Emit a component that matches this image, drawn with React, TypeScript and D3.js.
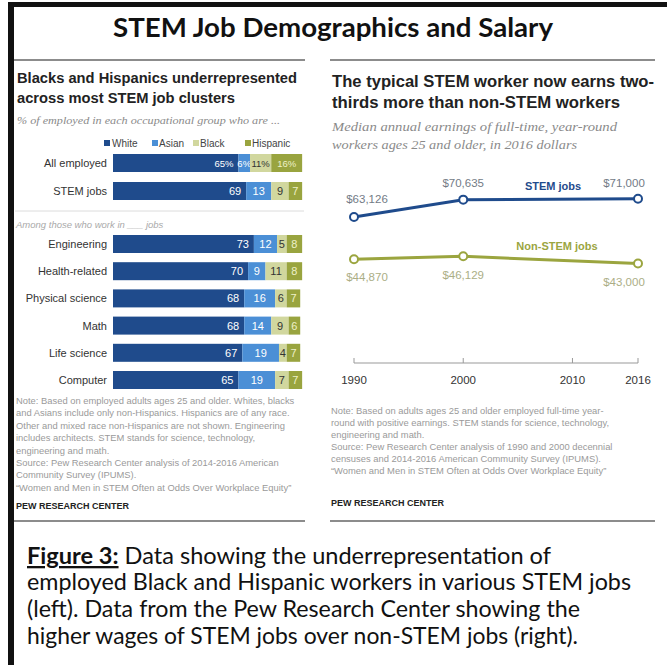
import React from 'react';
import * as d3 from 'd3';

// ---------- Data ----------
const topGroups = ['All employed', 'STEM jobs'];
const jobGroups = ['Engineering', 'Health-related', 'Physical science', 'Math', 'Life science', 'Computer'];
const races = ['White', 'Asian', 'Black', 'Hispanic'];
const whiteVals = [65, 69, 73, 70, 68, 68, 67, 65];
const asianVals = [6, 13, 12, 9, 16, 14, 19, 19];
const blackVals = [11, 9, 5, 11, 6, 9, 4, 7];
const hispanicVals = [16, 7, 8, 8, 7, 6, 7, 7];

const years = [1990, 2000, 2016];
const stemEarnings = [63126, 70635, 71000];
const nonStemEarnings = [44870, 46129, 43000];
const yearTicks = [1990, 2000, 2010, 2016];

const leftNotes = [
  'Note: Based on employed adults ages 25 and older. Whites, blacks',
  'and Asians include only non-Hispanics. Hispanics are of any race.',
  'Other and mixed race non-Hispanics are not shown. Engineering',
  'includes architects. STEM stands for science, technology,',
  'engineering and math.',
  'Source: Pew Research Center analysis of 2014-2016 American',
  'Community Survey (IPUMS).',
  '\u201cWomen and Men in STEM Often at Odds Over Workplace Equity\u201d',
];
const rightNotes = [
  'Note: Based on adults ages 25 and older employed full-time year-',
  'round with positive earnings. STEM stands for science, technology,',
  'engineering and math.',
  'Source: Pew Research Center analysis of 1990 and 2000 decennial',
  'censuses and 2014-2016 American Community Survey (IPUMS).',
  '\u201cWomen and Men in STEM Often at Odds Over Workplace Equity\u201d',
];
const captionLines = [
  'Data showing the underrepresentation of',
  'employed Black and Hispanic workers in various STEM jobs',
  '(left). Data from the Pew Research Center showing the',
  'higher wages of STEM jobs over non-STEM jobs (right).',
];

// ---------- Styles ----------
const SANS = '"Liberation Sans", Arial, sans-serif';
const SERIF = '"Liberation Serif", "DejaVu Serif", serif';
const CAL = 'Lato, "Open Sans", sans-serif';
const raceColors: Record<string, string> = {
  White: '#1f4b8c',
  Asian: '#4b8fd6',
  Black: '#d1d79e',
  Hispanic: '#99a43f',
};
const raceText: Record<string, string> = {
  White: '#ffffff',
  Asian: '#ffffff',
  Black: '#333333',
  Hispanic: '#eef1c9',
};
const STEM_COLOR = '#1f4b8c';
const NON_COLOR = '#9ba53f';

export default function App() {
  const cats = [...topGroups, ...jobGroups];
  const rows = cats.map((c, i) => ({
    cat: c,
    White: whiteVals[i],
    Asian: asianVals[i],
    Black: blackVals[i],
    Hispanic: hispanicVals[i],
  }));
  const stacked = d3.stack<any>().keys(races)(rows);

  const x = d3.scaleLinear().domain([0, 100]).range([113, 306]);
  const yTop = d3.scalePoint<string>().domain(topGroups).range([163, 191]);
  const yJobs = d3.scalePoint<string>().domain(jobGroups).range([244, 380]);
  const yCat = (c: string) => (topGroups.includes(c) ? (yTop(c) as number) : (yJobs(c) as number));
  const barH = 18;

  const xs = d3.scaleLinear().domain([1990, 2016]).range([354, 638]);
  const ys = d3.scaleLinear().domain([0, 80000]).range([363, 178]);
  const line = d3
    .line<number>()
    .x((_, i) => xs(years[i]))
    .y((d) => ys(d));
  const fmt = (v: number) => '$' + d3.format(',')(v);

  const stemOffsets = [
    { dx: 13, dy: -14 },
    { dx: 0, dy: -13 },
    { dx: -14, dy: -12 },
  ];
  const nonOffsets = [
    { dx: 13, dy: 22 },
    { dx: 0, dy: 23 },
    { dx: -14, dy: 22 },
  ];

  const legendPos = [
    { sq: 104, tx: 112 },
    { sq: 152, tx: 159 },
    { sq: 193, tx: 200 },
    { sq: 245, tx: 252 },
  ];
  const captionWidths = [524, 604, 553, 551];

  return (
    <svg
      width={667}
      height={665}
      style={{ position: 'absolute', left: 0, top: 0, background: '#fff' }}
    >
      <rect x={0} y={0} width={667} height={665} fill="#fff" />
      {/* frame */}
      <rect x={8} y={2} width={659} height={5} fill="#111" />
      <rect x={8} y={2} width={6} height={663} fill="#111" />

      {/* main title */}
      <text x={333} y={37} textAnchor="middle" fontFamily={CAL} fontWeight={700} fontSize={26} fill="#111" textLength={440} lengthAdjust="spacingAndGlyphs">
        STEM Job Demographics and Salary
      </text>

      {/* dividers */}
      <line x1={14} x2={305} y1={60} y2={60} stroke="#666" strokeWidth={1.5} />
      <line x1={330} x2={655} y1={60} y2={60} stroke="#666" strokeWidth={1.5} />
      <line x1={14} x2={305} y1={521} y2={521} stroke="#666" strokeWidth={1.5} />
      <line x1={330} x2={655} y1={521} y2={521} stroke="#666" strokeWidth={1.5} />

      {/* ---------- Left panel ---------- */}
      <text x={17} y={83} fontFamily={SANS} fontWeight={700} fontSize={14} fill="#222" textLength={280} lengthAdjust="spacingAndGlyphs">
        Blacks and Hispanics underrepresented
      </text>
      <text x={17} y={103} fontFamily={SANS} fontWeight={700} fontSize={14} fill="#222" textLength={218} lengthAdjust="spacingAndGlyphs">
        across most STEM job clusters
      </text>
      <text x={17} y={124} fontFamily={SERIF} fontStyle="italic" fontSize={11} fill="#8a8a8a" textLength={263} lengthAdjust="spacingAndGlyphs">
        % of employed in each occupational group who are ...
      </text>

      {/* legend */}
      {races.map((r, i) => (
        <g key={r}>
          <rect x={legendPos[i].sq} y={140} width={6} height={6} fill={raceColors[r]} />
          <text x={legendPos[i].tx} y={147} fontFamily={SANS} fontSize={10} fill="#444">
            {r}
          </text>
        </g>
      ))}

      {/* category labels */}
      {cats.map((c) => (
        <text key={c} x={107} y={yCat(c) + 4} textAnchor="end" fontFamily={SANS} fontSize={11} fill="#333">
          {c}
        </text>
      ))}

      {/* separator */}
      <line x1={15} x2={304} y1={211} y2={211} stroke="#dcdcdc" strokeWidth={1} />
      <text x={16} y={228} fontFamily={SANS} fontStyle="italic" fontSize={9.5} fill="#aaa">
        Among those who work in ___ jobs
      </text>

      {/* bars */}
      {stacked.map((s) =>
        s.map((d, i) => {
          const cat = cats[i];
          const x0 = x(d[0]);
          const x1 = x(d[1]);
          const v = d[1] - d[0];
          const cy = yCat(cat);
          const isWhite = s.key === 'White';
          const label = i === 0 ? `${v}%` : `${v}`;
          return (
            <g key={s.key + cat}>
              <rect x={x0} y={cy - barH / 2} width={x1 - x0} height={barH} fill={raceColors[s.key]} />
              <text
                x={isWhite ? x1 - 5 : (x0 + x1) / 2}
                y={cy + 4}
                textAnchor={isWhite ? 'end' : 'middle'}
                fontFamily={SANS}
                fontSize={i === 0 ? 9.5 : 11}
                fill={raceText[s.key]}
              >
                {label}
              </text>
            </g>
          );
        })
      )}

      {/* left notes */}
      {leftNotes.map((t, i) => (
        <text key={i} x={16} y={404 + i * 12.4} fontFamily={SANS} fontSize={9.4} fill="#9a9a9a">
          {t}
        </text>
      ))}
      <text x={16} y={509} fontFamily={SANS} fontWeight={700} fontSize={9} fill="#222">
        PEW RESEARCH CENTER
      </text>

      {/* ---------- Right panel ---------- */}
      <text x={332} y={87} fontFamily={SANS} fontWeight={700} fontSize={16} fill="#222" textLength={322} lengthAdjust="spacingAndGlyphs">
        The typical STEM worker now earns two-
      </text>
      <text x={332} y={108} fontFamily={SANS} fontWeight={700} fontSize={16} fill="#222" textLength={288} lengthAdjust="spacingAndGlyphs">
        thirds more than non-STEM workers
      </text>
      <text x={332} y={131} fontFamily={SERIF} fontStyle="italic" fontSize={12.5} fill="#8a8a8a" textLength={285} lengthAdjust="spacingAndGlyphs">
        Median annual earnings of full-time, year-round
      </text>
      <text x={332} y={149} fontFamily={SERIF} fontStyle="italic" fontSize={12.5} fill="#8a8a8a" textLength={245} lengthAdjust="spacingAndGlyphs">
        workers ages 25 and older, in 2016 dollars
      </text>

      {/* x axis */}
      <line x1={xs(1990)} x2={xs(2016)} y1={ys(0)} y2={ys(0)} stroke="#999" strokeWidth={1} />
      {yearTicks.map((t) => (
        <g key={t}>
          <line x1={xs(t)} x2={xs(t)} y1={ys(0)} y2={ys(0) - 5} stroke="#999" strokeWidth={1} />
          <text x={xs(t)} y={ys(0) + 21} textAnchor="middle" fontFamily={SANS} fontSize={11.5} fill="#333">
            {t}
          </text>
        </g>
      ))}

      {/* lines */}
      <path d={line(stemEarnings) || ''} fill="none" stroke={STEM_COLOR} strokeWidth={3} />
      <path d={line(nonStemEarnings) || ''} fill="none" stroke={NON_COLOR} strokeWidth={3} />
      {stemEarnings.map((v, i) => (
        <g key={'s' + i}>
          <circle cx={xs(years[i])} cy={ys(v)} r={4} fill="#fff" stroke={STEM_COLOR} strokeWidth={2} />
          <text x={xs(years[i]) + stemOffsets[i].dx} y={ys(v) + stemOffsets[i].dy} textAnchor="middle" fontFamily={SANS} fontSize={11.5} fill="#737b86">
            {fmt(v)}
          </text>
        </g>
      ))}
      {nonStemEarnings.map((v, i) => (
        <g key={'n' + i}>
          <circle cx={xs(years[i])} cy={ys(v)} r={4} fill="#fff" stroke={NON_COLOR} strokeWidth={2} />
          <text x={xs(years[i]) + nonOffsets[i].dx} y={ys(v) + nonOffsets[i].dy} textAnchor="middle" fontFamily={SANS} fontSize={11.5} fill="#abae86">
            {fmt(v)}
          </text>
        </g>
      ))}
      <text x={553} y={190} textAnchor="middle" fontFamily={SANS} fontWeight={700} fontSize={11} fill={STEM_COLOR}>
        STEM jobs
      </text>
      <text x={557} y={250} textAnchor="middle" fontFamily={SANS} fontWeight={700} fontSize={11} fill={NON_COLOR}>
        Non-STEM jobs
      </text>

      {/* right notes */}
      {rightNotes.map((t, i) => (
        <text key={i} x={331} y={414 + i * 12} fontFamily={SANS} fontSize={9.4} fill="#9a9a9a">
          {t}
        </text>
      ))}
      <text x={331} y={506} fontFamily={SANS} fontWeight={700} fontSize={9} fill="#222">
        PEW RESEARCH CENTER
      </text>

      {/* caption */}
      <text x={27} y={564} fontFamily={CAL} fontSize={23} fill="#111" textLength={captionWidths[0]} lengthAdjust="spacingAndGlyphs">
        <tspan fontWeight={700} textDecoration="underline">Figure 3:</tspan>
        <tspan> {captionLines[0]}</tspan>
      </text>
      {captionLines.slice(1).map((t, i) => (
        <text key={i} x={27} y={590 + i * 27} fontFamily={CAL} fontSize={23} fill="#111" textLength={captionWidths[i + 1]} lengthAdjust="spacingAndGlyphs">
          {t}
        </text>
      ))}
    </svg>
  );
}
